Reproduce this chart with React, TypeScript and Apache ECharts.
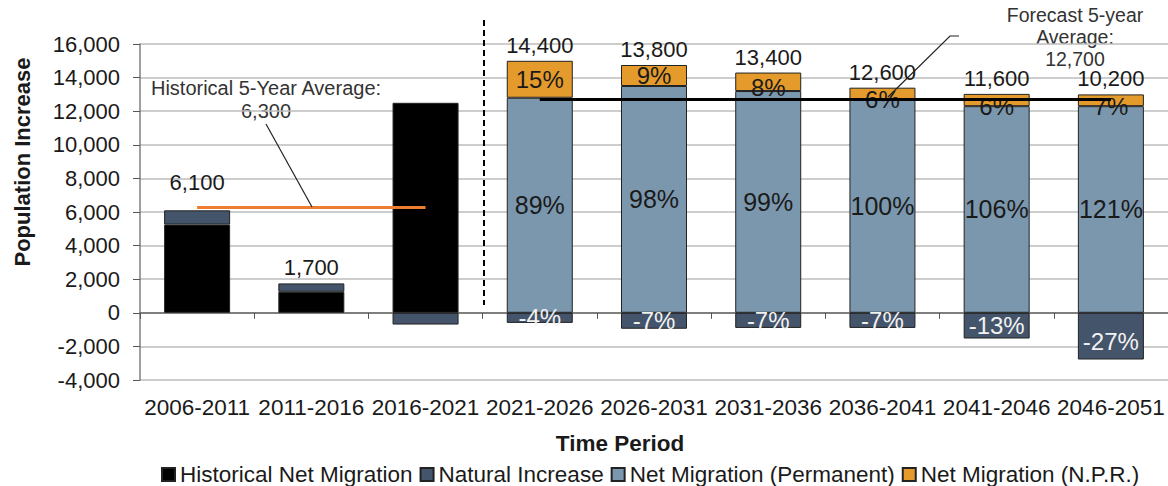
import React, { useEffect, useRef } from "react";
import * as echarts from "echarts";

const categories = [
  "2006-2011", "2011-2016", "2016-2021", "2021-2026", "2026-2031",
  "2031-2036", "2036-2041", "2041-2046", "2046-2051",
];
const historicalNet = [5250, 1250, 12500, null, null, null, null, null, null];
const naturalIncrease = [850, 500, -700, -600, -950, -900, -900, -1530, -2780];
const netPermanent = [null, null, null, 12800, 13500, 13200, 12700, 12300, 12300];
const netNPR = [null, null, null, 2200, 1250, 1100, 700, 730, 700];
const totals = [6100, 1700, null, 14400, 13800, 13400, 12600, 11600, 10200];
const naturalPct = [null, null, null, "-4%", "-7%", "-7%", "-7%", "-13%", "-27%"];
const permanentPct = [null, null, null, "89%", "98%", "99%", "100%", "106%", "121%"];
const nprPct = [null, null, null, "15%", "9%", "8%", "6%", "6%", "7%"];
const historicalAvg = 6300;
const forecastAvg = 12700;
const yMin = -4000;
const yMax = 16000;
const yInterval = 2000;

const FONT = "'Liberation Sans', Arial, sans-serif";
const C_HIST = "#000000";
const C_NAT = "#44546a";
const C_PERM = "#7b97ad";
const C_NPR = "#e59b2c";
const BORDER = "#222222";

const fmt = (v: number) => v.toLocaleString("en-US");

export default function App() {
  const ref = useRef<HTMLDivElement>(null);
  useEffect(() => {
    if (!ref.current) return;
    const chart = echarts.init(ref.current, null, { renderer: "svg" });

    const stackTop = categories.map((_, i) => {
      if (totals[i] == null) return null;
      if (i < 3) return (historicalNet[i] || 0) + Math.max(naturalIncrease[i], 0);
      return (netPermanent[i] || 0) + (netNPR[i] || 0);
    });

    const option: any = {
      animation: false,
      textStyle: { fontFamily: FONT },
      grid: { left: 140, right: 0, top: 44, bottom: 106, containLabel: false },
      legend: {
        data: [
          "Historical Net Migration",
          "Natural Increase",
          "Net Migration (Permanent)",
          "Net Migration (N.P.R.)",
        ],
        icon: "rect",
        left: 156,
        top: 458,
        itemWidth: 13,
        itemHeight: 13,
        itemGap: 7,
        selectedMode: false,
        textStyle: { fontSize: 22.5, color: "#1a1a1a", fontFamily: FONT },
      },
      xAxis: [
        {
          type: "category",
          data: categories,
          axisLine: { onZero: true, lineStyle: { color: "#7f7f7f", width: 2 } },
          axisTick: { show: true, length: 6, lineStyle: { color: "#555" } },
          axisLabel: { show: false },
          splitLine: { show: false },
        },
        {
          type: "category",
          data: categories,
          position: "bottom",
          axisLine: { show: false, onZero: false },
          axisTick: { show: false },
          axisLabel: { interval: 0, fontSize: 22.5, color: "#1a1a1a", margin: 16, fontFamily: FONT },
          splitLine: { show: false },
        },
      ],
      yAxis: {
        type: "value",
        min: yMin,
        max: yMax,
        interval: yInterval,
        axisLine: { show: true, lineStyle: { color: "#7f7f7f", width: 1.5 } },
        axisTick: { show: true, length: 7, lineStyle: { color: "#555" } },
        axisLabel: {
          fontSize: 22,
          color: "#1a1a1a",
          margin: 20,
          fontFamily: FONT,
          formatter: (v: number) => fmt(v),
        },
        splitLine: { show: true, lineStyle: { color: "#bdbdbd", width: 1.5 } },
      },
      series: [
        {
          name: "Historical Net Migration",
          type: "bar",
          stack: "total",
          barWidth: 66,
          data: historicalNet,
          itemStyle: { color: C_HIST, borderColor: BORDER, borderWidth: 1 },
          markLine: {
            silent: true,
            symbol: "none",
            label: { show: false },
            lineStyle: { color: "#ed7d31", width: 3, type: "solid" },
            data: [[{ coord: [0, historicalAvg] }, { coord: [2, historicalAvg] }]],
          },
          z: 2,
        },
        {
          name: "Natural Increase",
          type: "bar",
          stack: "total",
          barWidth: 66,
          data: naturalIncrease.map((v, i) => ({
            value: v,
            label: naturalPct[i]
              ? {
                  show: true,
                  position: "inside",
                  formatter: naturalPct[i],
                  color: "#f2f2f2",
                  fontSize: 24,
                  offset: i === 8 ? [0, 5] : [0, 0],
                }
              : { show: false },
          })),
          itemStyle: { color: C_NAT, borderColor: BORDER, borderWidth: 1 },
          z: 2,
        },
        {
          name: "Net Migration (Permanent)",
          type: "bar",
          stack: "total",
          barWidth: 66,
          data: netPermanent.map((v, i) => ({
            value: v,
            label: permanentPct[i]
              ? { show: true, position: "inside", formatter: permanentPct[i], color: "#1a1a1a", fontSize: 25 }
              : { show: false },
          })),
          itemStyle: { color: C_PERM, borderColor: BORDER, borderWidth: 1 },
          z: 2,
        },
        {
          name: "Net Migration (N.P.R.)",
          type: "bar",
          stack: "total",
          barWidth: 66,
          data: netNPR.map((v, i) => ({
            value: v,
            label: nprPct[i]
              ? {
                  show: true,
                  position: "inside",
                  formatter: nprPct[i],
                  color: "#1a1a1a",
                  fontSize: 24,
                  offset: i >= 5 ? [0, 6] : [0, 0],
                }
              : { show: false },
          })),
          itemStyle: { color: C_NPR, borderColor: BORDER, borderWidth: 1 },
          markLine: {
            silent: true,
            symbol: "none",
            label: { show: false },
            lineStyle: { color: "#000", width: 3, type: "solid" },
            data: [[{ coord: [3, forecastAvg] }, { coord: [8, forecastAvg] }]],
          },
          z: 2,
        },
        {
          name: "Total",
          type: "scatter",
          symbolSize: 1,
          itemStyle: { color: "rgba(0,0,0,0)", opacity: 1 },
          silent: true,
          z: 5,
          data: stackTop.map((v, i) => ({
            value: v,
            label: totals[i] != null
              ? {
                  show: true,
                  position: "top",
                  distance: i === 0 ? 16 : 4,
                  formatter: fmt(totals[i] as number),
                  color: "#1a1a1a",
                  opacity: 1,
                  fontSize: 22,
                }
              : { show: false },
          })),
        },
      ],
      graphic: [
        {
          type: "line",
          shape: { x1: 484, y1: 20, x2: 484, y2: 305 },
          style: { stroke: "#000", lineWidth: 2, lineDash: [6, 4] },
          z: 10,
        },
        {
          type: "text",
          x: 22,
          y: 162,
          rotation: Math.PI / 2,
          style: {
            text: "Population Increase",
            font: `bold 22px ${FONT}`,
            fill: "#1a1a1a",
            align: "center",
            verticalAlign: "middle",
          },
        },
        {
          type: "text",
          x: 620,
          y: 443,
          style: {
            text: "Time Period",
            font: `bold 22.5px ${FONT}`,
            fill: "#1a1a1a",
            align: "center",
            verticalAlign: "middle",
          },
        },
        {
          type: "text",
          x: 266,
          y: 88,
          style: {
            text: "Historical 5-Year Average:",
            font: `20px ${FONT}`,
            fill: "#333",
            align: "center",
            verticalAlign: "middle",
          },
        },
        {
          type: "text",
          x: 266,
          y: 111,
          style: {
            text: fmt(historicalAvg),
            font: `20px ${FONT}`,
            fill: "#333",
            align: "center",
            verticalAlign: "middle",
          },
        },
        {
          type: "line",
          shape: { x1: 266, y1: 124, x2: 312, y2: 207 },
          style: { stroke: "#222", lineWidth: 1.2 },
          z: 10,
        },
        {
          type: "text",
          x: 1075,
          y: 15,
          style: {
            text: "Forecast 5-year",
            font: `19.5px ${FONT}`,
            fill: "#333",
            align: "center",
            verticalAlign: "middle",
          },
        },
        {
          type: "text",
          x: 1075,
          y: 37,
          style: {
            text: "Average:",
            font: `19.5px ${FONT}`,
            fill: "#333",
            align: "center",
            verticalAlign: "middle",
          },
        },
        {
          type: "text",
          x: 1075,
          y: 59,
          style: {
            text: fmt(forecastAvg),
            font: `19.5px ${FONT}`,
            fill: "#333",
            align: "center",
            verticalAlign: "middle",
          },
        },
        {
          type: "polyline",
          shape: { points: [[959, 36], [950, 36], [888, 97]] },
          style: { stroke: "#222", lineWidth: 1.2, fill: "none" },
          z: 10,
        },
      ],
    };
    chart.setOption(option);
    return () => chart.dispose();
  }, []);

  return (
    <div
      ref={ref}
      style={{ position: "absolute", left: 0, top: 0, width: 1168, height: 486, background: "#fff" }}
    />
  );
}
